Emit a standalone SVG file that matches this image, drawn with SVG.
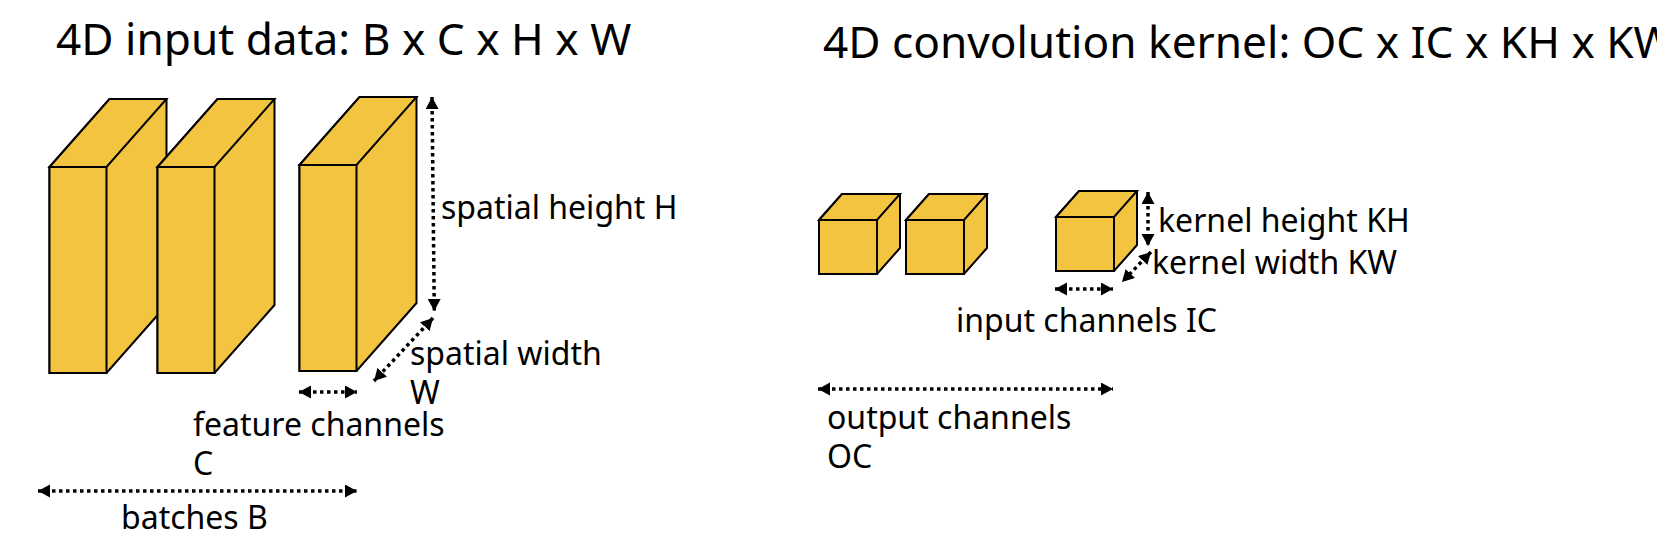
<svg xmlns="http://www.w3.org/2000/svg" width="1657" height="541" viewBox="0 0 1657 541">
<style>
.t{font-family:"Noto Sans","DejaVu Sans",sans-serif;font-size:32px;fill:#000}
.h{font-family:"Noto Sans","DejaVu Sans",sans-serif;font-size:44.2px;fill:#000}
.f{fill:#f2c440;stroke:#000;stroke-width:2;stroke-linejoin:miter}
.a{fill:none;stroke:#000;stroke-width:3.5;stroke-dasharray:3.5 3.5;marker-start:url(#m);marker-end:url(#m)}
</style>
<defs>
<marker id="m" markerUnits="userSpaceOnUse" markerWidth="14" markerHeight="14" refX="12" refY="6.5" orient="auto-start-reverse"><path d="M0 0L12 6.5L0 13Z" fill="#000"/></marker>
<g id="tall"><path class="f" d="M0 68L60 0H117V206L57 274H0Z"/><path class="f" d="M0 68H57V274H0Z"/><path class="f" d="M0 68L60 0H117L57 68Z"/></g>
<g id="small"><path class="f" d="M0 26L23 0H81V54L58 80H0Z"/><path class="f" d="M0 26H58V80H0Z"/><path class="f" d="M0 26L23 0H81L58 26Z"/></g>
</defs>
<rect width="1657" height="541" fill="#fff"/>
<g id="title-left"><text class="h" x="56" y="55">4D input data: B x C x H x W</text></g>
<g id="title-right"><text class="h" x="823" y="58">4D convolution kernel: OC x IC x KH x KW</text></g>
<g id="input-cube-1"><use href="#tall" x="49.5" y="99"/></g>
<g id="input-cube-2"><use href="#tall" x="157.5" y="99"/></g>
<g id="input-cube-3"><use href="#tall" x="299.5" y="97"/></g>
<g id="kernel-cube-1"><use href="#small" x="819" y="194"/></g>
<g id="kernel-cube-2"><use href="#small" x="906" y="194"/></g>
<g id="kernel-cube-3"><use href="#small" x="1056" y="191"/></g>
<g id="connectors">
<path class="a" d="M432 97L434.3 311"/>
<path class="a" d="M433 318L374 381"/>
<path class="a" d="M299 392H357"/>
<path class="a" d="M38 491H357"/>
<path class="a" d="M1055 289H1113"/>
<path class="a" d="M818 389H1113"/>
<path class="a" d="M1148 192V246"/>
<path class="a" d="M1151 252L1122 282"/>
</g>
<g id="labels">
<text class="t" x="441" y="219">spatial height H</text>
<text class="t" x="410" y="365">spatial width</text>
<text class="t" x="410" y="404">W</text>
<text class="t" x="193" y="436">feature channels</text>
<text class="t" x="193" y="475">C</text>
<text class="t" x="121" y="529">batches B</text>
<text class="t" x="1158" y="232">kernel height KH</text>
<text class="t" x="1152" y="274">kernel width KW</text>
<text class="t" x="956" y="332">input channels IC</text>
<text class="t" x="827" y="429">output channels</text>
<text class="t" x="827" y="468">OC</text>
</g>
</svg>
